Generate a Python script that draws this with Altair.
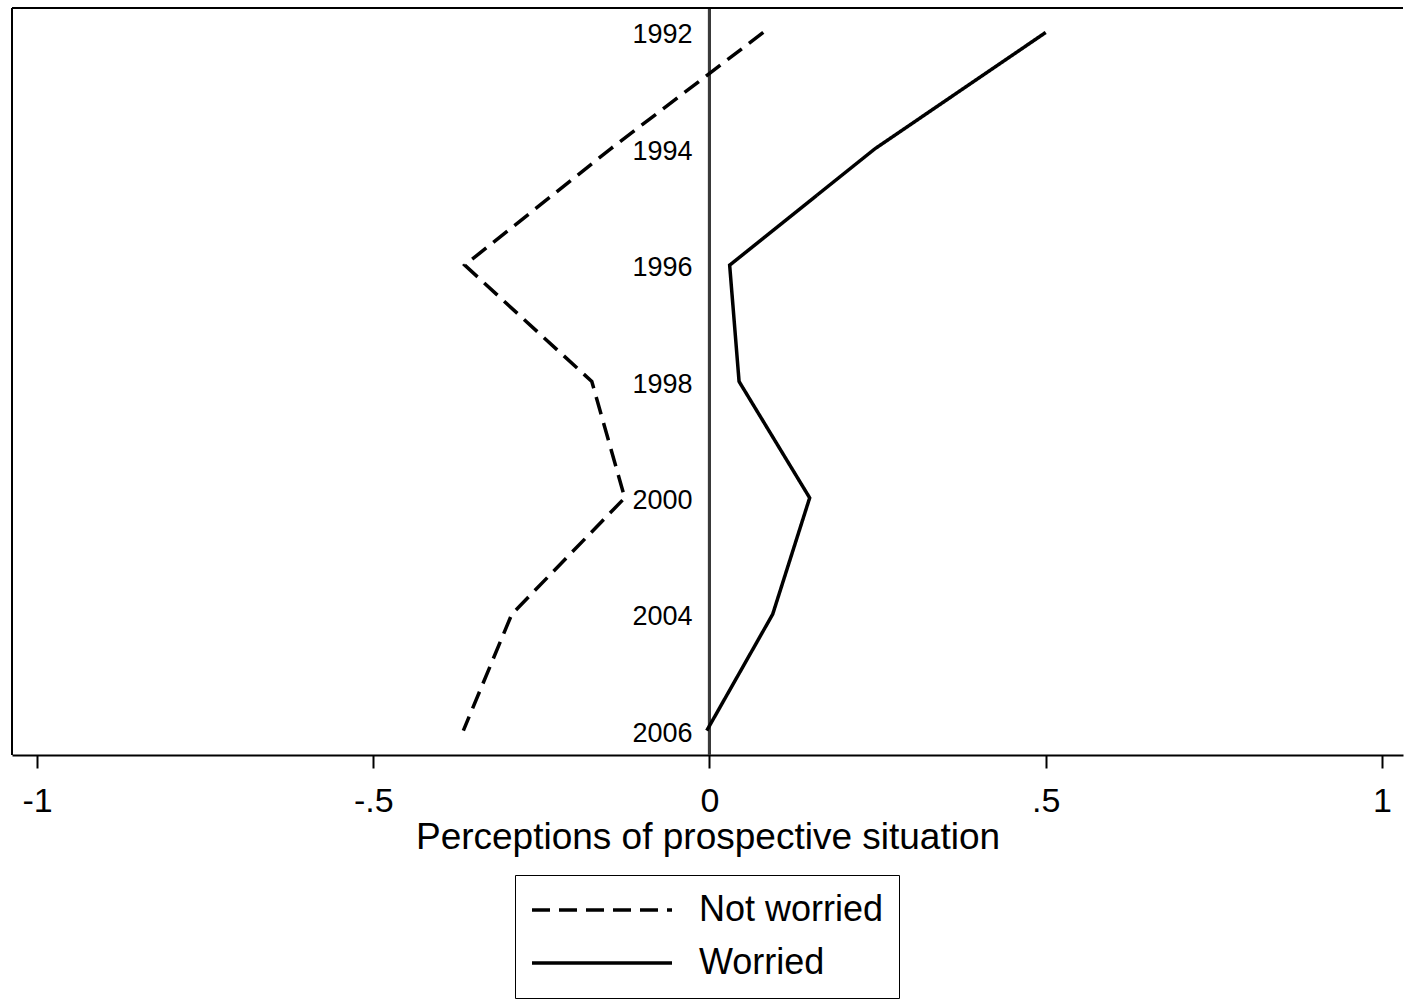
import altair as alt
import pandas as pd

years = [1992, 1994, 1996, 1998, 2000, 2004, 2006]
not_worried = [0.080, -0.147, -0.364, -0.175, -0.126, -0.294, -0.366]
worried = [0.500, 0.246, 0.030, 0.044, 0.149, 0.094, -0.004]
series_names = ["Not worried", "Worried"]
x_ticks = [-1, -0.5, 0, 0.5, 1]

rows = []
for name, vals in zip(series_names, [not_worried, worried]):
    for yr, v in zip(years, vals):
        rows.append({"series": name, "year": str(yr), "yr": yr, "value": v})
df = pd.DataFrame(rows)
labels_df = pd.DataFrame({"year": [str(y) for y in years], "yr": years})

FONT = "Liberation Sans"
ydom = [str(y) for y in years]

xscale = alt.Scale(domain=[-1.0372, 1.0313], nice=False, zero=False)
yscale = alt.Scale(domain=ydom, padding=0.21)

label_expr = "replace(replace(format(datum.value, '~g'), '\u2212', '-'), '0.', '.')"

lines = alt.Chart(df).mark_line(color="black", strokeWidth=3.5).encode(
    x=alt.X("value:Q", scale=xscale,
            axis=alt.Axis(values=x_ticks, title="Perceptions of prospective situation",
                          labelExpr=label_expr)),
    y=alt.Y("year:O", scale=yscale, axis=None),
    strokeDash=alt.StrokeDash(
        "series:N",
        scale=alt.Scale(domain=series_names, range=[[18, 9], [1, 0]]),
        legend=alt.Legend(title=None, orient="none", legendX=503, legendY=867,
                          direction="vertical", symbolType="stroke",
                          symbolSize=19600, symbolStrokeWidth=3.5,
                          symbolStrokeColor="black", labelFontSize=36,
                          labelFont=FONT, labelColor="black", labelLimit=0,
                          labelOffset=25, strokeColor="black", clipHeight=40,
                          padding=15, rowPadding=13),
    ),
    order=alt.Order("yr:Q"),
)

zero_rule = alt.Chart(labels_df).mark_rule(color="#3a3a3a", strokeWidth=3).encode(
    x=alt.datum(0, scale=xscale)
)

year_text = alt.Chart(labels_df).mark_text(
    align="right", baseline="middle", dx=-17, dy=3, fontSize=27, font=FONT, color="black"
).encode(
    x=alt.datum(0),
    y=alt.Y("year:O", scale=yscale, axis=None),
    text="year:N",
)

top_rule = alt.Chart(labels_df).mark_rule(color="black", strokeWidth=2).encode(
    y=alt.value(0)
)
left_rule = alt.Chart(labels_df).mark_rule(color="black", strokeWidth=2).encode(
    x=alt.value(0)
)

chart = alt.layer(zero_rule, lines, year_text, top_rule, left_rule).properties(
    width=1391, height=747,
    padding={"left": 12, "top": 8, "right": 2, "bottom": 245},
    autosize=alt.AutoSizeParams(type="none"),
    background="white",
).configure_view(stroke=None).configure_axis(
    grid=False, domainColor="black", domainWidth=2, tickColor="black",
    tickWidth=2, tickSize=13, labelFontSize=34, labelFont=FONT, labelColor="black",
    labelPadding=16, titleFont=FONT, titleFontSize=37, titleFontWeight="normal",
    titleColor="black", titlePadding=1,
)

chart.save("out.html", embed_options={"renderer": "svg", "actions": False})
